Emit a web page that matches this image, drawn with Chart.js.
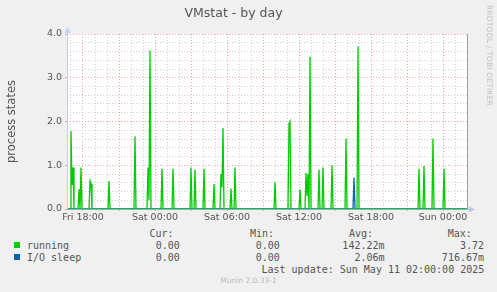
<!DOCTYPE html>
<html>
<head>
<meta charset="utf-8">
<script src="https://cdn.jsdelivr.net/npm/chart.js@4"></script>
<style>
  html, body { margin: 0; padding: 0; background: #f0f0f0; }
  #wrap { position: relative; width: 497px; height: 292px; overflow: hidden; }
  #box { position: absolute; left: 0; top: 0; width: 497px; height: 225px; }
  .t { position: absolute; white-space: pre; font-family: "DejaVu Sans Mono", monospace; font-size: 10px; line-height: 12px; color: #555; }
  .sq { position: absolute; width: 6px; height: 6px; }
  #rrd { position: absolute; left: 485px; top: 5px; writing-mode: vertical-rl; font-family: "DejaVu Sans", sans-serif; font-size: 7.5px; color: #c0c0c0; letter-spacing: 0.2px; }
  #munin { position: absolute; left: 0; width: 497px; top: 276px; text-align: center; font-family: "DejaVu Sans", sans-serif; font-size: 7.5px; color: #bbb; }
</style>
</head>
<body>
<div id="wrap">
  <div id="box"><canvas id="chart"></canvas></div>
  <div id="legend"></div>
  <div id="rrd">RRDTOOL / TOBI OETIKER</div>
  <div id="munin">Munin 2.0.33-1</div>
</div>
<script>
// values, 5 minute samples
const runTimes = [
  'Fri 16:40', 'Fri 16:55', 'Fri 17:00', 'Fri 17:05', 'Fri 17:10', 'Fri 17:15',
  'Fri 17:35', 'Fri 17:40', 'Fri 17:45', 'Fri 17:50', 'Fri 17:55',
  'Fri 18:30', 'Fri 18:35', 'Fri 18:40', 'Fri 18:45',
  'Fri 20:05', 'Fri 20:10', 'Fri 20:15',
  'Fri 22:15', 'Fri 22:20', 'Fri 22:25',
  'Fri 23:20', 'Fri 23:25', 'Fri 23:30', 'Fri 23:35', 'Fri 23:40',
  'Sat 00:30', 'Sat 00:35', 'Sat 00:40',
  'Sat 01:25', 'Sat 01:30', 'Sat 01:35',
  'Sat 02:55', 'Sat 03:00', 'Sat 03:05',
  'Sat 03:15', 'Sat 03:20', 'Sat 03:25',
  'Sat 04:00', 'Sat 04:05', 'Sat 04:10',
  'Sat 04:50', 'Sat 04:55', 'Sat 05:00',
  'Sat 05:25', 'Sat 05:30', 'Sat 05:35', 'Sat 05:40', 'Sat 05:45',
  'Sat 06:15', 'Sat 06:20', 'Sat 06:25',
  'Sat 06:35', 'Sat 06:40', 'Sat 06:45',
  'Sat 09:55', 'Sat 10:00', 'Sat 10:05',
  'Sat 11:05', 'Sat 11:10', 'Sat 11:15', 'Sat 11:20',
  'Sat 12:00', 'Sat 12:05', 'Sat 12:10',
  'Sat 12:30', 'Sat 12:35', 'Sat 12:40', 'Sat 12:45', 'Sat 12:50', 'Sat 12:55', 'Sat 13:00',
  'Sat 13:35', 'Sat 13:40', 'Sat 13:45',
  'Sat 13:55', 'Sat 14:00', 'Sat 14:05',
  'Sat 14:40', 'Sat 14:45', 'Sat 14:50',
  'Sat 15:50', 'Sat 15:55', 'Sat 16:00',
  'Sat 16:50', 'Sat 16:55', 'Sat 17:00',
  'Sat 21:55', 'Sat 22:00', 'Sat 22:05',
  'Sat 22:20', 'Sat 22:25', 'Sat 22:30',
  'Sat 23:05', 'Sat 23:10', 'Sat 23:15',
  'Sun 00:00', 'Sun 00:05', 'Sun 00:10', 'Sun 02:00'
];
const runValues = [
  0, 0, 1.78, 0.55, 0.95, 0,
  0, 0.45, 0, 0.95, 0,
  0, 0.64, 0.58, 0,
  0, 0.64, 0,
  0, 1.66, 0,
  0, 0.95, 0.2, 3.62, 0,
  0, 0.92, 0,
  0, 0.92, 0,
  0, 0.95, 0,
  0, 0.9, 0,
  0, 0.92, 0,
  0, 0.57, 0,
  0, 0.8, 0.5, 1.85, 0,
  0, 0.47, 0,
  0, 0.95, 0,
  0, 0.61, 0,
  0, 1.95, 2.0, 0,
  0, 0.45, 0,
  0, 0.82, 0.3, 0.8, 0, 3.48, 0,
  0, 0.9, 0,
  0, 0.95, 0,
  0, 1.0, 0,
  0, 1.61, 0,
  0, 3.72, 0,
  0, 0.92, 0,
  0, 0.98, 0,
  0, 1.61, 0,
  0, 0.92, 0, 0
];
const ioTimes = ['Fri 16:40', 'Sat 16:30', 'Sat 16:35', 'Sat 16:40', 'Sun 02:00'];
const ioValues = [0, 0, 0.717, 0, 0];

const xTickHours = [18, 24, 30, 36, 42, 48];
const xTickLabels = ['Fri 18:00', 'Sat 00:00', 'Sat 06:00', 'Sat 12:00', 'Sat 18:00', 'Sun 00:00'];
const yTickValues = [0, 1, 2, 3, 4];
const yTickLabels = ['0.0', '1.0', '2.0', '3.0', '4.0'];

const seriesNames = ['running', 'I/O sleep'];
const seriesColors = ['#00cc00', '#0066b3'];
const curText = ['0.00', '0.00'];
const minText = ['0.00', '0.00'];
const avgText = ['142.22m', '2.06m'];
const maxText = ['3.72', '716.67m'];

function hours(s) {
  const parts = s.split(' ');
  const hm = parts[1].split(':').map(Number);
  return { Fri: 0, Sat: 24, Sun: 48 }[parts[0]] + hm[0] + hm[1] / 60;
}
const toPoints = (ts, vs) => ts.map((t, i) => ({ x: hours(t), y: vs[i] }));

// legend block under the chart
const legend = document.getElementById('legend');
function put(text, left, cy, color) {
  const d = document.createElement('div');
  d.className = 't';
  d.textContent = text;
  d.style.left = left + 'px';
  d.style.top = (cy - 6) + 'px';
  if (color) d.style.color = color;
  legend.appendChild(d);
}
const cw = 6.02;
const colRight = [179.8, 279.8, 384.5, 484];
['Cur:', 'Min:', 'Avg:', 'Max:'].forEach((h, i) => put(h, [149.5, 250, 349, 447.7][i], 234));
seriesNames.forEach((name, i) => {
  const cy = 245.7 + i * 11.8;
  const sq = document.createElement('div');
  sq.className = 'sq';
  sq.style.left = '14px';
  sq.style.top = (cy - 3.5) + 'px';
  sq.style.background = seriesColors[i];
  legend.appendChild(sq);
  put(name, 27, cy);
  [curText[i], minText[i], avgText[i], maxText[i]].forEach((v, j) => {
    put(v, colRight[j] - v.length * cw, cy);
  });
});
put('Last update: Sun May 11 02:00:00 2025', 261.5, 269.5);

const minorGrid = 'rgba(200, 200, 200, 0.85)';
const majorGrid = 'rgba(232, 150, 150, 0.85)';
const near = (a, b) => Math.abs(a - b) < 1e-6;

const muninFrame = {
  id: 'muninFrame',
  beforeDraw(chart) {
    const { ctx, chartArea: a } = chart;
    ctx.save();
    ctx.fillStyle = '#ffffff';
    ctx.fillRect(a.left, a.top, a.right - a.left, a.bottom - a.top);
    ctx.restore();
  },
  afterDatasetsDraw(chart) {
    const { ctx, chartArea: a } = chart;
    ctx.save();
    // right border
    ctx.strokeStyle = '#a0a0a0';
    ctx.lineWidth = 1;
    ctx.beginPath();
    ctx.moveTo(a.right + 0.5, a.top);
    ctx.lineTo(a.right + 0.5, a.bottom);
    ctx.stroke();
    // left axis with arrow
    ctx.strokeStyle = '#c4ccf0';
    ctx.beginPath();
    ctx.moveTo(a.left + 0.5, a.bottom);
    ctx.lineTo(a.left + 0.5, a.top - 3);
    ctx.stroke();
    ctx.fillStyle = '#c4ccf0';
    ctx.beginPath();
    ctx.moveTo(a.left + 0.5, a.top - 7);
    ctx.lineTo(a.left - 2.5, a.top - 1);
    ctx.lineTo(a.left + 3.5, a.top - 1);
    ctx.closePath();
    ctx.fill();
    // bottom axis with arrow
    ctx.strokeStyle = '#93a9de';
    ctx.beginPath();
    ctx.moveTo(a.left, a.bottom + 0.5);
    ctx.lineTo(a.right + 3, a.bottom + 0.5);
    ctx.stroke();
    ctx.fillStyle = '#b8c6ee';
    ctx.beginPath();
    ctx.moveTo(a.right + 8, a.bottom + 0.5);
    ctx.lineTo(a.right + 2, a.bottom - 2.5);
    ctx.lineTo(a.right + 2, a.bottom + 3.5);
    ctx.closePath();
    ctx.fill();
    ctx.restore();
  }
};

const ctx = document.getElementById('chart').getContext('2d');
new Chart(ctx, {
  type: 'line',
  data: {
    datasets: [
      {
        label: seriesNames[0],
        data: toPoints(runTimes, runValues),
        borderColor: seriesColors[0],
        borderWidth: 1.3,
        pointRadius: 0,
        tension: 0,
        fill: false
      },
      {
        label: seriesNames[1],
        data: toPoints(ioTimes, ioValues),
        borderColor: seriesColors[1],
        borderWidth: 1.3,
        pointRadius: 0,
        tension: 0,
        fill: false
      }
    ]
  },
  options: {
    responsive: true,
    maintainAspectRatio: false,
    animation: false,
    events: [],
    layout: { padding: { left: 0, right: 30, top: 0, bottom: 0 } },
    plugins: {
      legend: { display: false },
      tooltip: { enabled: false },
      title: {
        display: true,
        text: 'VMstat - by day',
        color: '#555',
        font: { family: 'DejaVu Sans', size: 12.5, weight: 'normal', lineHeight: 1.2 },
        padding: { top: 6, bottom: 13 }
      }
    },
    scales: {
      x: {
        type: 'linear',
        min: 16 + 40 / 60,
        max: 50,
        afterBuildTicks: scale => {
          const ticks = [];
          for (let h = 17; h <= 50; h++) ticks.push({ value: h });
          scale.ticks = ticks;
        },
        afterFit: scale => { scale.height = 16; },
        ticks: {
          autoSkip: false,
          maxRotation: 0,
          padding: 1,
          color: '#555',
          font: { family: 'DejaVu Sans', size: 9.5 },
          callback: v => {
            const i = xTickHours.indexOf(v);
            return i >= 0 ? xTickLabels[i] : '';
          }
        },
        grid: {
          color: c => (c.tick && c.tick.value % 3 === 0) ? majorGrid : minorGrid,
          tickColor: c => (c.tick && c.tick.value % 3 === 0) ? majorGrid : 'rgba(0,0,0,0)',
          tickLength: 2,
          lineWidth: 1
        },
        border: { display: false, dash: [1, 2] }
      },
      y: {
        min: 0,
        max: 4,
        afterBuildTicks: scale => {
          const ticks = [];
          for (let k = 0; k <= 20; k++) ticks.push({ value: k * 0.2 });
          scale.ticks = ticks;
        },
        afterFit: scale => { scale.width = 67; },
        ticks: {
          autoSkip: false,
          padding: 3,
          color: '#555',
          font: { family: 'DejaVu Sans', size: 9.5 },
          callback: v => {
            const i = yTickValues.findIndex(t => near(t, v));
            return i >= 0 ? yTickLabels[i] : '';
          }
        },
        grid: {
          color: c => (c.tick && near(c.tick.value, Math.round(c.tick.value))) ? majorGrid : minorGrid,
          tickColor: c => (c.tick && near(c.tick.value, Math.round(c.tick.value))) ? majorGrid : 'rgba(0,0,0,0)',
          tickLength: 2,
          lineWidth: 1
        },
        border: { display: false, dash: [1, 2] },
        title: {
          display: true,
          text: 'process states',
          color: '#555',
          font: { family: 'DejaVu Sans', size: 11.5, lineHeight: 1.2 },
          padding: { top: 5, bottom: 0 }
        }
      }
    }
  },
  plugins: [muninFrame]
});
</script>
</body>
</html>
